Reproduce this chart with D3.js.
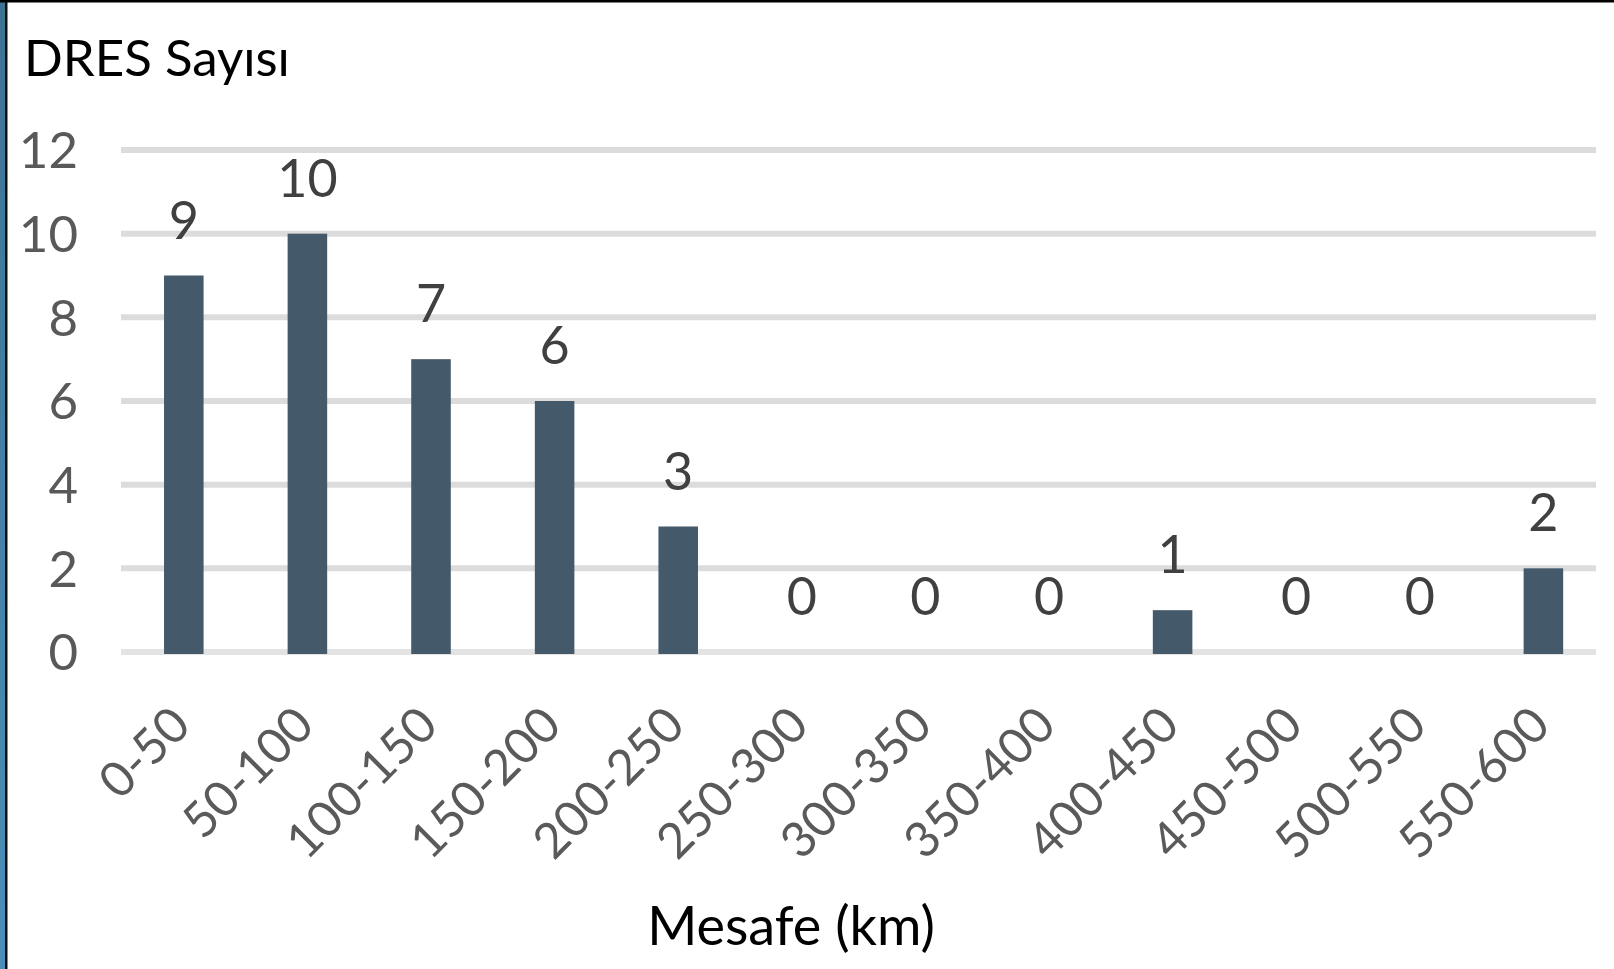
<!DOCTYPE html>
<html>
<head>
<meta charset="utf-8">
<script src="https://cdn.jsdelivr.net/npm/d3@7/dist/d3.min.js"></script>
<style>
  html, body { margin: 0; padding: 0; background: #fff; }
  svg { display: block; }
  text { font-family: Lato, "Open Sans", sans-serif; }
</style>
</head>
<body>
<svg id="chart" width="1614" height="969"></svg>
<script>
// Distance bands (km) and number of DRES in each band
const categories = ["0-50", "50-100", "100-150", "150-200", "200-250", "250-300",
                    "300-350", "350-400", "400-450", "450-500", "500-550", "550-600"];
const counts = [9, 10, 7, 6, 3, 0, 0, 0, 1, 0, 0, 2];
const yTicks = [0, 2, 4, 6, 8, 10, 12];
const chartTitle = "DRES Sayısı";
const xAxisTitle = "Mesafe (km)";

const svg = d3.select("#chart");
const W = 1614, H = 969;

// frame: blue strip and dark rule on the left, dark rule on top
const defs = svg.append("defs");
const grad = defs.append("linearGradient").attr("id", "edge").attr("x1", 0).attr("y1", 0).attr("x2", 0).attr("y2", 1);
grad.append("stop").attr("offset", "0%").attr("stop-color", "#3c7393");
grad.append("stop").attr("offset", "100%").attr("stop-color", "#4b8eb8");
svg.append("rect").attr("x", 0).attr("y", 0).attr("width", W).attr("height", H).attr("fill", "#fff");
svg.append("rect").attr("x", 0).attr("y", 0).attr("width", 5).attr("height", H).attr("fill", "url(#edge)");
svg.append("rect").attr("x", 5).attr("y", 0).attr("width", 2.5).attr("height", H).attr("fill", "#111");
svg.append("rect").attr("x", 0).attr("y", 0).attr("width", W).attr("height", 2.5).attr("fill", "#000");

// plot area
const plot = { left: 121, right: 1596, top: 150, bottom: 652 };

const x = d3.scaleBand()
  .domain(categories)
  .range([plot.left + 1, plot.left + 1 + 123.6 * categories.length])
  .paddingInner(0.68)
  .paddingOuter(0.34);

const y = d3.scaleLinear().domain([0, 12]).range([plot.bottom, plot.top]);

// horizontal gridlines
svg.append("g")
  .selectAll("line")
  .data(yTicks)
  .join("line")
  .attr("x1", plot.left)
  .attr("x2", plot.right)
  .attr("y1", d => y(d))
  .attr("y2", d => y(d))
  .attr("stroke", d => d === 0 ? "#e3e3e3" : "#dcdcdc")
  .attr("stroke-width", 6);

// y tick labels
svg.append("g")
  .selectAll("text")
  .data(yTicks)
  .join("text")
  .attr("x", 78)
  .attr("y", d => y(d))
  .attr("dy", "0.36em")
  .attr("text-anchor", "end")
  .attr("fill", "#595959")
  .attr("font-size", 51)
  .text(d => d);

// bars (zero-valued bands draw nothing)
svg.append("g")
  .selectAll("rect")
  .data(counts)
  .join("rect")
  .attr("x", (d, i) => x(categories[i]))
  .attr("width", x.bandwidth())
  .attr("y", d => y(d))
  .attr("height", d => d > 0 ? y(0) - y(d) + 2 : 0)
  .attr("fill", "#44596a");

// value labels above bars
svg.append("g")
  .selectAll("text")
  .data(counts)
  .join("text")
  .attr("x", (d, i) => x(categories[i]) + x.bandwidth() / 2)
  .attr("y", d => y(d) - 37)
  .attr("text-anchor", "middle")
  .attr("fill", "#404040")
  .attr("font-size", 52)
  .text(d => d);

// rotated category labels
svg.append("g")
  .selectAll("text")
  .data(categories)
  .join("text")
  .attr("transform", d => `translate(${x(d) + x.bandwidth() / 2 + 9}, 728) rotate(-45)`)
  .attr("text-anchor", "end")
  .attr("fill", "#5a5a5a")
  .attr("font-size", 49)
  .text(d => d);

// titles
svg.append("text")
  .attr("x", 24)
  .attr("y", 76)
  .attr("fill", "#000")
  .attr("font-size", 51)
  .text(chartTitle);

svg.append("text")
  .attr("x", 791)
  .attr("y", 945)
  .attr("text-anchor", "middle")
  .attr("fill", "#000")
  .attr("font-size", 54)
  .text(xAxisTitle);
</script>
</body>
</html>
